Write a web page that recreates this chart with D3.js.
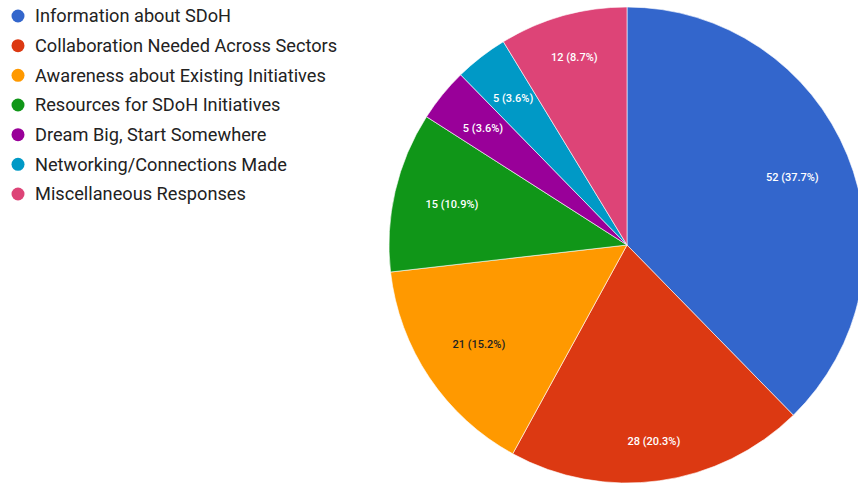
<!DOCTYPE html>
<html><head><meta charset="utf-8">
<script src="https://cdn.jsdelivr.net/npm/d3@7"></script>
<style>body{margin:0;background:#fff;}svg{display:block;}</style>
</head><body>
<script>
const categories = ["Information about SDoH","Collaboration Needed Across Sectors","Awareness about Existing Initiatives","Resources for SDoH Initiatives","Dream Big, Start Somewhere","Networking/Connections Made","Miscellaneous Responses"];
const values = [52, 28, 21, 15, 5, 5, 12];
const colors = ["#3366cc","#dc3912","#ff9900","#109618","#990099","#0099c6","#dd4477"];
const labelColors = ["#fff","#fff","#222","#fff","#fff","#fff","#fff"];
// layout: radial position of each slice label as a fraction of the radius
const labelRadiusFactor = [0.75, 0.83, 0.75, 0.755, 0.78, 0.78, 0.82];

const W = 858, H = 485;
const svg = d3.select("body").append("svg").attr("width", W).attr("height", H);
const cx = 627, cy = 245, R = 238;
const total = d3.sum(values);
const pie = d3.pie().sort(null).value(d => d)(values);
const arc = d3.arc().innerRadius(0).outerRadius(R);
const g = svg.append("g").attr("transform", `translate(${cx},${cy})`);
g.selectAll("path").data(pie).join("path")
  .attr("d", arc).attr("fill", (d,i) => colors[i]).attr("stroke", "#fff").attr("stroke-width", 0.6);
g.selectAll("text").data(pie).join("text")
  .attr("transform", (d,i) => {
    const r = R * labelRadiusFactor[i];
    return `translate(${d3.arc().innerRadius(r).outerRadius(r).centroid(d)})`;
  })
  .attr("text-anchor", "middle").attr("dy", "0.35em")
  .attr("font-family", "Roboto, Arial, sans-serif").attr("font-size", 11).attr("font-weight", 500)
  .attr("fill", (d,i) => labelColors[i])
  .text(d => `${d.data} (${(d.data/total*100).toFixed(1)}%)`);

const leg = svg.append("g");
const y = d3.scalePoint().domain(categories).range([16, 194]);
categories.forEach((c, i) => {
  leg.append("circle").attr("cx", 18).attr("cy", y(c)).attr("r", 6.5).attr("fill", colors[i]);
  leg.append("text").attr("x", 35).attr("y", y(c)).attr("dy", "0.35em")
    .attr("font-family", "Roboto, Arial, sans-serif").attr("font-size", 18.2).attr("fill", "#222").text(c);
});
</script>
</body></html>
